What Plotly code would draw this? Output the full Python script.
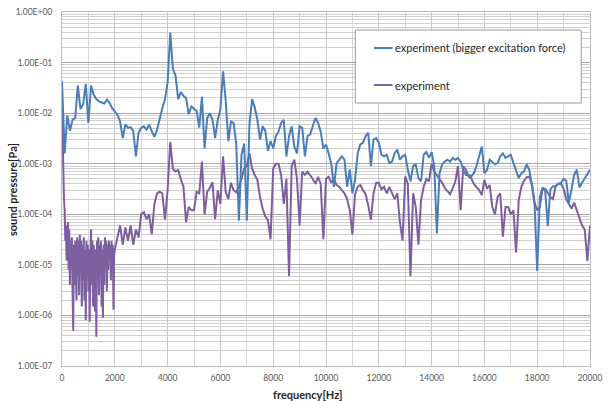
import plotly.graph_objects as go

# ---------------------------------------------------------------- data
# frequency grid [Hz]
blue_freq = list(range(0, 20001, 100))
purple_low_freq = list(range(0, 2000, 25))
purple_high_freq = list(range(2000, 20001, 100))

# sound pressure [Pa], experiment with bigger excitation force (one row per 1000 Hz)
blue_vals = [
    4.3e-2, 1.6e-3, 9e-3, 4.5e-3, 7.4e-3, 8e-3, 3.5e-2, 1.2e-2, 1.5e-2, 3.8e-2,
    6.4e-3, 3.5e-2, 2.3e-2, 1.9e-2, 1.7e-2, 1.6e-2, 1.55e-2, 1.85e-2, 1.6e-2, 1.25e-2,
    1.05e-2, 9.2e-3, 6.9e-3, 3.2e-3, 6.0e-3, 5.1e-3, 5.3e-3, 4.4e-3, 1.4e-3, 4.1e-3,
    5.1e-3, 5.5e-3, 4.7e-3, 5.9e-3, 4.4e-3, 3.4e-3, 4.7e-3, 8e-3, 1.25e-2, 1.85e-2,
    4.0e-2, 0.39, 7.5e-2, 5.5e-2, 1.9e-2, 2.6e-2, 2.2e-2, 2.0e-2, 9.5e-3, 1.35e-2,
    1.2e-2, 1.1e-2, 5.2e-3, 2.1e-2, 2.0e-3, 8e-3, 1.0e-2, 7.4e-3, 3.2e-3, 7.4e-3,
    1.17e-2, 6.7e-2, 1.8e-2, 2.8e-3, 6.8e-3, 6.4e-3, 2.5e-3, 7.5e-5, 1.5e-3, 2.5e-3,
    7.5e-5, 6e-3, 1.9e-2, 1.3e-2, 7.4e-3, 3.0e-3, 5.5e-3, 4.5e-3, 1.8e-3, 2.8e-3,
    2.0e-3, 3.5e-3, 4.3e-3, 6.4e-3, 7.4e-3, 1.4e-3, 3.5e-3, 5.5e-3, 2.2e-3, 1.6e-3,
    5.5e-3, 5.1e-3, 1.4e-3, 3.5e-3, 3.8e-3, 5.5e-3, 8e-3, 6.4e-3, 4.3e-3, 2.0e-3,
    2.4e-3, 1.6e-3, 1.0e-3, 3.5e-4, 1.0e-3, 1.2e-3, 1.4e-3, 1.2e-3, 3.5e-4, 7.7e-4,
    2.6e-4, 4.8e-4, 1.6e-3, 2.4e-3, 2.6e-3, 3.5e-3, 4.1e-3, 8.9e-4, 3.0e-3, 3.2e-3,
    2.6e-3, 1.5e-3, 1.4e-3, 1.5e-3, 1.03e-3, 1.1e-3, 1.6e-3, 1.9e-3, 1.2e-3, 1.4e-3,
    1.5e-3, 7.6e-4, 4.5e-4, 9e-4, 9.7e-4, 5.2e-4, 4.5e-4, 1.5e-3, 1.7e-3, 1.3e-3,
    1.7e-3, 9e-4, 4.2e-5, 6.5e-4, 9.7e-4, 1.1e-3, 1.2e-3, 1.1e-3, 1.3e-3, 1.2e-3,
    1.3e-3, 1.1e-3, 7.6e-4, 6e-4, 6e-4, 5.6e-4, 6.5e-4, 9e-4, 1.5e-3, 2.2e-3,
    6.5e-4, 7.6e-4, 1.2e-3, 1.1e-3, 9.7e-4, 1.03e-3, 1.4e-3, 1.6e-3, 1.3e-3, 1.4e-3,
    1.5e-3, 1.03e-3, 7.6e-4, 5.2e-4, 6.5e-4, 7e-4, 9.7e-4, 7.6e-4, 3.7e-4, 1.6e-4,
    7.6e-6, 2.2e-4, 3.4e-4, 3e-4, 5.8e-5, 3.1e-4, 3.6e-4, 3.6e-4, 4e-4, 4.2e-4,
    5e-4, 4.6e-4, 1.66e-4, 3.1e-4, 6e-4, 7.6e-4, 3.4e-4, 4.2e-4, 5.2e-4, 6.5e-4,
    7.6e-4,
]

# sound pressure [Pa], experiment, 0-1975 Hz in 25 Hz steps (one row per 250 Hz)
purple_low_vals = [
    1.5e-2, 2e-3, 4e-4, 2e-4, 1.2e-4, 3e-5, 6e-5, 1.2e-5, 4e-5, 7e-5,
    8e-6, 5e-5, 4e-6, 3e-5, 1.2e-5, 3.5e-5, 3e-6, 5e-7, 2.5e-5, 4e-6,
    3e-5, 1e-5, 2e-6, 3.5e-5, 6e-6, 3e-5, 2.5e-6, 4e-5, 1.2e-5, 3e-5,
    1.5e-6, 2.5e-5, 5e-6, 3.5e-5, 2e-6, 2e-5, 8e-7, 3e-5, 6e-6, 2.5e-5,
    3e-6, 2e-5, 7.5e-7, 1.5e-5, 5e-5, 4e-6, 3e-5, 1.5e-6, 2.5e-5, 8e-6,
    1.2e-6, 2e-5, 3.8e-7, 3e-5, 5e-6, 3.5e-5, 2.5e-6, 2.5e-5, 8e-6, 3e-5,
    1.5e-6, 2e-5, 9e-7, 2.5e-5, 4e-6, 3.5e-5, 1.2e-5, 3e-5, 3e-6, 2.5e-5,
    8e-6, 3e-5, 1.5e-5, 2.5e-5, 5e-6, 3e-5, 1.5e-5, 2.5e-5, 1.3e-6, 1.5e-5,
]

# sound pressure [Pa], experiment, 2000-20000 Hz in 100 Hz steps
purple_high_vals = [
    2e-5, 3.5e-5, 6e-5, 2.5e-5, 5.5e-5, 3e-5, 6e-5, 2.5e-5, 5e-5, 3.5e-5,
    1.0e-4, 1.1e-4, 8e-5, 1.0e-4, 4e-5, 1.6e-4, 2.6e-4, 2.8e-4, 2.6e-4, 7.8e-5,
    3e-4, 2.7e-3, 8e-4, 7e-4, 7.5e-4, 5e-4, 3.5e-4, 7e-5, 1.4e-4, 1.2e-4,
    1.2e-4, 2.8e-4, 2.6e-4, 1.1e-3, 1.0e-4, 2.8e-4, 3.3e-4, 4.3e-4, 8e-5, 3e-4,
    1.6e-4, 1.4e-3, 2.8e-4, 2e-4, 4.2e-4, 3e-4, 2.7e-4, 3.5e-4, 5e-4, 8e-4,
    9e-4, 1.6e-3, 8e-4, 6e-4, 4.8e-4, 2.2e-4, 1.3e-4, 9e-5, 7.8e-5, 3.2e-5,
    8e-4, 1.0e-3, 1.0e-3, 6e-4, 1.6e-4, 5e-4, 6e-6, 9e-4, 1.2e-3, 5e-4,
    6e-5, 7e-4, 6e-4, 7e-4, 6e-4, 5e-4, 4e-4, 5.5e-4, 4e-4, 3.2e-5,
    5e-4, 5.5e-4, 4.2e-4, 5e-4, 3.8e-4, 3.5e-4, 3e-4, 2.6e-4, 2e-4, 1.2e-4,
    4e-5, 2.5e-4, 3.5e-4, 3.8e-4, 3e-4, 2.5e-4, 1.5e-4, 7.8e-5, 2.6e-4, 4.2e-4,
    4.2e-4, 3.1e-4, 3.5e-4, 2.6e-4, 3.5e-4, 2.6e-4, 2e-4, 2.6e-4, 7e-5, 3e-5,
    5.6e-4, 4e-4, 6e-6, 2.6e-4, 1.4e-4, 2.5e-5, 1.9e-4, 3.5e-4, 5e-4, 4.5e-4,
    1.0e-3, 7e-4, 6e-4, 5e-4, 4.2e-4, 3.3e-4, 2.8e-4, 2.5e-4, 3.3e-4, 4.5e-4,
    9e-4, 1.2e-4, 9e-4, 7.6e-4, 5.6e-4, 5.2e-4, 4e-4, 3.5e-4, 3e-4, 2.4e-4,
    4.8e-4, 3.2e-4, 3.8e-4, 1.4e-4, 1.0e-4, 2.2e-4, 2.6e-4, 3.6e-5, 1.4e-4, 1.4e-4,
    1.0e-4, 1.2e-4, 1.75e-5, 1.9e-4, 3.5e-4, 4.6e-4, 5.4e-4, 5.6e-4, 4e-4, 1.7e-4,
    1.2e-4, 1.4e-4, 3.1e-4, 3.2e-4, 2.6e-4, 2.2e-4, 2e-4, 3.6e-4, 4e-4, 4e-4,
    3.2e-4, 2.0e-4, 1.6e-4, 1.3e-4, 1.7e-4, 1.2e-4, 7.8e-5, 6e-5, 5e-5, 1.2e-5,
    6e-5,
]

series_names = ["experiment (bigger excitation force)", "experiment"]
x_ticks = list(range(0, 20001, 2000))
y_decades = list(range(-7, 1))

# ---------------------------------------------------------------- style
BLUE = "#4a7ebb"
PURPLE = "#7d5fa0"
FONT = "Lato, 'Open Sans', Arial, sans-serif"
W, H = 609, 401
ML, MR, MT, MB = 62, 7, 12, 35
PW, PH = W - ML - MR, H - MT - MB


def px_x(p):
    return (p - ML) / PW


def px_y(p):
    return (H - MB - p) / PH


fig = go.Figure()
fig.add_trace(go.Scatter(
    x=purple_low_freq + purple_high_freq, y=purple_low_vals + purple_high_vals,
    mode="lines", name=series_names[1],
    line=dict(color=PURPLE, width=2), showlegend=False))
fig.add_trace(go.Scatter(
    x=blue_freq, y=blue_vals, mode="lines", name=series_names[0],
    line=dict(color=BLUE, width=2), showlegend=False))

minor_vals = [k * 10.0 ** e for e in range(-7, 0) for k in range(2, 10)]

fig.update_xaxes(
    range=[0, 20000], tickvals=x_ticks, ticktext=[str(v) for v in x_ticks],
    showgrid=True, gridcolor="#c8c8c8", gridwidth=1,
    minor=dict(dtick=1000, showgrid=True, gridcolor="#d8d8d8", gridwidth=1),
    showline=True, linecolor="#bdbdbd", mirror=True, zeroline=False,
    ticks="", ticklabelstandoff=4, ticklabeloverflow="allow",
    tickfont=dict(family=FONT, size=8.5, color="#595959"),
)
fig.update_yaxes(
    type="log", range=[-7, 0],
    tickvals=[10.0 ** e for e in y_decades],
    ticktext=["1.00E%+03d" % e if e < 0 else "1.00E+00" for e in y_decades],
    showgrid=True, gridcolor="#a6a6a6", gridwidth=1,
    minor=dict(tickmode="array", tickvals=minor_vals, showgrid=True,
               gridcolor="#cfcfcf", gridwidth=1, ticks=""),
    showline=True, linecolor="#bdbdbd", mirror=True, zeroline=False,
    ticks="", ticklabelstandoff=7,
    tickfont=dict(family=FONT, size=8.5, color="#595959"),
)

# legend box
LX0, LX1, LY0, LY1 = 362, 593, 30, 103
fig.add_shape(type="rect", xref="paper", yref="paper",
              x0=px_x(LX0), x1=px_x(LX1), y0=px_y(LY1), y1=px_y(LY0),
              line=dict(color="#9a9a9a", width=1), fillcolor="white", layer="above")
for i, (name, col) in enumerate(zip(series_names, [BLUE, PURPLE])):
    yy = 48 + 37 * i
    fig.add_shape(type="line", xref="paper", yref="paper",
                  x0=px_x(381), x1=px_x(400), y0=px_y(yy), y1=px_y(yy),
                  line=dict(color=col, width=2), layer="above")
    fig.add_annotation(xref="paper", yref="paper", x=px_x(401), y=px_y(yy),
                       text=name, showarrow=False, xanchor="left", yanchor="middle",
                       font=dict(family=FONT, size=11, color="#262626"))

# axis titles
fig.add_annotation(xref="paper", yref="paper", x=px_x(313), y=px_y(394),
                   text="<b>frequency[Hz]</b>", showarrow=False,
                   xanchor="center", yanchor="middle",
                   font=dict(family=FONT, size=11, color="#262626"))
fig.add_annotation(xref="paper", yref="paper", x=px_x(12), y=px_y(190),
                   text="<b>sound pressure[Pa]</b>", showarrow=False, textangle=-90,
                   xanchor="center", yanchor="middle",
                   font=dict(family=FONT, size=11, color="#262626"))

fig.update_layout(
    width=W, height=H, margin=dict(l=ML, r=MR, t=MT, b=MB),
    paper_bgcolor="white", plot_bgcolor="white", showlegend=False,
)

fig.write_html("out.html")
